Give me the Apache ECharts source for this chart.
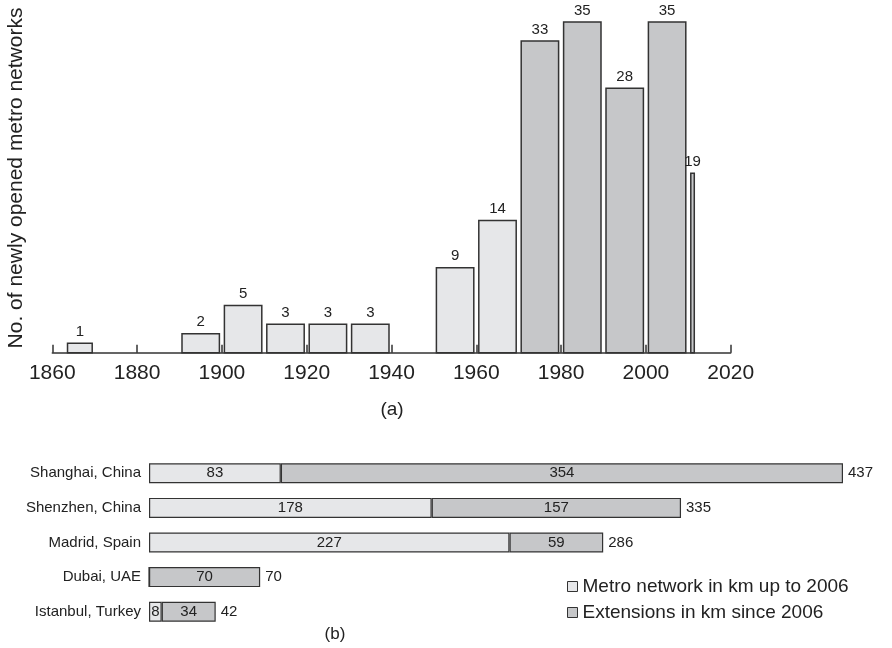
<!DOCTYPE html>
<html>
<head>
<meta charset="utf-8">
<title>Metro networks</title>
<script src="https://cdn.jsdelivr.net/npm/echarts@6/dist/echarts.min.js"></script>
<style>
  html, body { margin: 0; padding: 0; background: #fff; }
  #chart { width: 892px; height: 648px; }
</style>
</head>
<body>
<div id="chart"></div>
<script>
// (a) newly opened metro networks per decade
const binStart = [1863, 1890, 1900, 1910, 1920, 1930, 1950, 1960, 1970, 1980, 1990, 2000, 2010];
const binEnd   = [1870, 1900, 1910, 1920, 1930, 1940, 1960, 1970, 1980, 1990, 2000, 2010, 2012];
const openings = [1, 2, 5, 3, 3, 3, 9, 14, 33, 35, 28, 35, 19];
const yearTicks = [1860, 1880, 1900, 1920, 1940, 1960, 1980, 2000, 2020];

// (b) network length in km
const cities = ['Shanghai, China', 'Shenzhen, China', 'Madrid, Spain', 'Dubai, UAE', 'Istanbul, Turkey'];
const kmUpTo2006 = [83, 178, 227, 0, 8];
const kmSince2006 = [354, 157, 59, 70, 34];
const kmTotal = kmUpTo2006.map((v, i) => v + kmSince2006[i]);

const LIGHT = '#e6e7e9';
const DARK = '#c6c7c9';
const EDGE = '#333';
const FONT = "'Liberation Sans', Arial, Helvetica, sans-serif";

const chart = echarts.init(document.getElementById('chart'));

const histData = binStart.map((s, i) => [s, binEnd[i], openings[i]]);

function renderBin(params, api) {
  const x0 = api.value(0), x1 = api.value(1), n = api.value(2);
  const topLeft = api.coord([x0, n]);
  const botRight = api.coord([x1, 0]);
  const inset = 2.5;
  const left = topLeft[0] + inset;
  const width = botRight[0] - topLeft[0] - inset * 2;
  return {
    type: 'group',
    children: [
      {
        type: 'rect',
        shape: { x: left, y: topLeft[1], width: width, height: botRight[1] - topLeft[1] },
        style: { fill: x0 >= 1970 ? DARK : LIGHT, stroke: EDGE, lineWidth: 1.5 }
      },
      {
        type: 'text',
        style: {
          text: String(n), x: left + width / 2, y: topLeft[1] - 4,
          align: 'center', verticalAlign: 'bottom',
          fontSize: 15, fontFamily: FONT, fill: '#222'
        }
      }
    ]
  };
}

chart.setOption({
  animation: false,
  textStyle: { fontFamily: FONT, color: '#222' },
  grid: [
    { left: 52.3, right: 161.3, top: 22, bottom: 295.3 },
    { left: 149, right: 49, top: 456, bottom: 19 }
  ],
  xAxis: [
    {
      gridIndex: 0, type: 'value', min: yearTicks[0], max: yearTicks[yearTicks.length - 1], interval: 20,
      axisLine: { lineStyle: { color: EDGE, width: 1.5 } },
      axisTick: { inside: true, length: 8, lineStyle: { color: EDGE, width: 1.5 } },
      axisLabel: { fontSize: 21, color: '#222', margin: 10, formatter: v => String(v) },
      splitLine: { show: false }
    },
    { gridIndex: 1, type: 'value', min: 0, max: 437, show: false }
  ],
  yAxis: [
    { gridIndex: 0, type: 'value', min: 0, max: 35, show: false },
    {
      gridIndex: 1, type: 'category', data: cities, inverse: true,
      axisLine: { show: false }, axisTick: { show: false },
      axisLabel: { fontSize: 15, color: '#222', margin: 8 }
    }
  ],
  legend: {
    data: ['Metro network in km up to 2006', 'Extensions in km since 2006'],
    orient: 'vertical', left: 562, top: 572,
    icon: 'rect', itemWidth: 10, itemHeight: 10, itemGap: 7,
    itemStyle: { borderWidth: 1, borderColor: EDGE },
    textStyle: { fontSize: 19, color: '#222' }
  },
  graphic: [
    {
      type: 'text', x: 16, y: 178, rotation: Math.PI / 2,
      style: { text: 'No. of newly opened metro networks', fontSize: 21, fontFamily: FONT,
        fill: '#222', align: 'center', verticalAlign: 'middle' }
    },
    {
      type: 'text', x: 392, y: 410,
      style: { text: '(a)', fontSize: 19, fontFamily: FONT, fill: '#222', align: 'center', verticalAlign: 'middle' }
    },
    {
      type: 'text', x: 335, y: 634,
      style: { text: '(b)', fontSize: 17, fontFamily: FONT, fill: '#222', align: 'center', verticalAlign: 'middle' }
    }
  ],
  series: [
    {
      type: 'custom', xAxisIndex: 0, yAxisIndex: 0,
      renderItem: renderBin, data: histData,
      encode: { x: [0, 1], y: 2 }
    },
    {
      name: 'Metro network in km up to 2006', type: 'bar', stack: 'km',
      xAxisIndex: 1, yAxisIndex: 1, barWidth: 20, data: kmUpTo2006,
      itemStyle: { color: LIGHT, borderColor: EDGE, borderWidth: 1.2 },
      label: { show: true, position: 'inside', fontSize: 15, color: '#222',
        formatter: p => (p.value > 0 ? p.value : '') }
    },
    {
      name: 'Extensions in km since 2006', type: 'bar', stack: 'km',
      xAxisIndex: 1, yAxisIndex: 1, barWidth: 20, data: kmSince2006,
      itemStyle: { color: DARK, borderColor: EDGE, borderWidth: 1.2 },
      label: { show: true, position: 'inside', fontSize: 15, color: '#222' }
    },
    {
      type: 'scatter', xAxisIndex: 1, yAxisIndex: 1, symbolSize: 0,
      itemStyle: { opacity: 1 },
      data: kmTotal.map((t, i) => [t, i]),
      label: { show: true, position: 'right', distance: 5, fontSize: 15, color: '#222',
        formatter: p => p.value[0] }
    }
  ]
});
</script>
</body>
</html>
